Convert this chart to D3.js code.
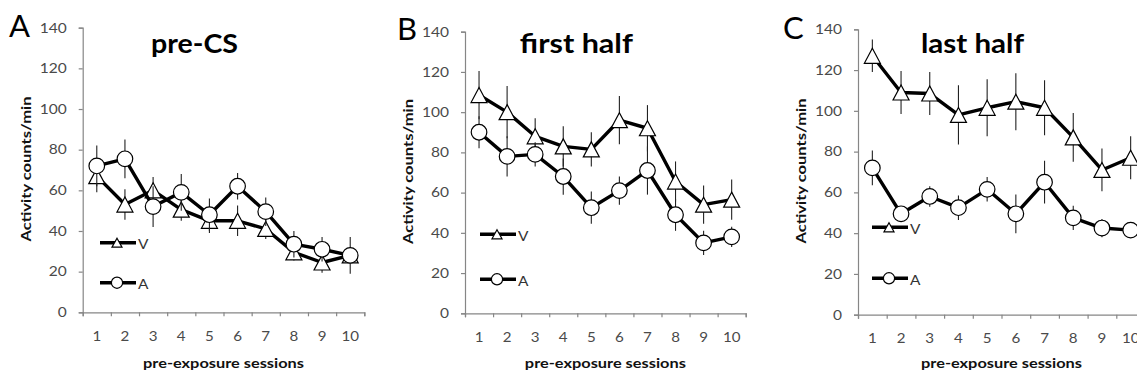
<!DOCTYPE html>
<html>
<head>
<meta charset="utf-8">
<script src="https://cdn.jsdelivr.net/npm/d3@7"></script>
<style>
  html, body { margin: 0; padding: 0; background: #fff; }
  svg { display: block; }
  text { font-family: Lato, "Open Sans", "DejaVu Sans", sans-serif; }
</style>
</head>
<body>
<svg id="fig" width="1137" height="379"></svg>
<script>
// Pre-exposure sessions 1-10
const sessions = [1, 2, 3, 4, 5, 6, 7, 8, 9, 10];
const yTicks = [0, 20, 40, 60, 80, 100, 120, 140];

// Panel A: pre-CS
const preCS_V = [67, 53, 60, 50.5, 45, 45, 41, 29.5, 24.5, 28];
const preCS_V_err = [8, 7.5, 6.5, 5.5, 6, 7.5, 5, 4, 5, 4];
const preCS_A = [72, 75.5, 52, 59, 48, 62, 49.5, 33.5, 31, 28];
const preCS_A_err = [10, 9.5, 10, 9, 8, 6.5, 7, 6.5, 6, 9];

// Panel B: first half
const firstHalf_V = [108.5, 100, 88, 83, 81.5, 96, 92, 65.5, 54, 56.5];
const firstHalf_V_err = [12, 13, 9, 10, 8.5, 12, 11.5, 10, 9.5, 10];
const firstHalf_A = [90, 78, 79, 68, 52.5, 61, 71, 49, 35, 38];
const firstHalf_A_err = [8, 10, 6, 9, 8, 7, 12, 8, 6, 5];

// Panel C: last half
const lastHalf_V = [127, 109, 108.5, 98, 101.5, 104.5, 101.5, 87, 71, 77];
const lastHalf_V_err = [8, 10.5, 10.5, 14.5, 14, 14, 13.5, 12, 10.5, 10.5];
const lastHalf_A = [72, 49.5, 58, 52.5, 61.5, 49.5, 65, 47.5, 42.5, 41.5];
const lastHalf_A_err = [8.5, 3, 5, 6, 6, 9.5, 10.5, 6, 4.5, 3];

const panelLetters = ["A", "B", "C"];
const panelTitles = ["pre-CS", "first half", "last half"];
const seriesNames = ["V", "A"];
const yLabel = "Activity counts/min";
const xLabel = "pre-exposure sessions";

const panelData = [
  { V: preCS_V, Verr: preCS_V_err, A: preCS_A, Aerr: preCS_A_err },
  { V: firstHalf_V, Verr: firstHalf_V_err, A: firstHalf_A, Aerr: firstHalf_A_err },
  { V: lastHalf_V, Verr: lastHalf_V_err, A: lastHalf_A, Aerr: lastHalf_A_err }
];

// Plot frames (pixel layout) for the three panels
const frames = [
  { left: 82.7, right: 364.3, top: 27.7, bottom: 312.3, legX: 100, legV: 242.7, legA: 282.7,
    letterX: 9, letterY: 37, titleW: 87 },
  { left: 465, right: 745.7, top: 31.7, bottom: 313.3, legX: 480, legV: 234.3, legA: 279.3,
    letterX: 397, letterY: 40, titleW: 113 },
  { left: 858, right: 1145, top: 29.3, bottom: 314.7, legX: 872, legV: 227.3, legA: 278.3,
    letterX: 783, letterY: 39, titleW: 103 }
];

const svg = d3.select("#fig");
const AXIS_COLOR = "#868686";
const TICK_TEXT = "#4a4a4a";

// Stretch a text node horizontally by factor k (wide chart lettering)
function widen(sel, k) {
  sel.each(function () {
    const w = this.getComputedTextLength();
    this.setAttribute("textLength", w * k);
    this.setAttribute("lengthAdjust", "spacingAndGlyphs");
  });
}
function fitWidth(sel, w) {
  sel.attr("textLength", w).attr("lengthAdjust", "spacingAndGlyphs");
}

const triPath = (w, h) => `M0,${-h / 2}L${w / 2},${h / 2}L${-w / 2},${h / 2}Z`;

function drawMarker(g, type, big) {
  if (type === "V") {
    g.append("path")
      .attr("d", big ? triPath(16, 15) : triPath(10, 9))
      .attr("fill", "#fff").attr("stroke", "#000").attr("stroke-width", 1.2);
  } else {
    g.append("circle")
      .attr("r", big ? 7.8 : 5.6)
      .attr("fill", "#fff").attr("stroke", "#000").attr("stroke-width", 1.2);
  }
}

frames.forEach((f, i) => {
  const d = panelData[i];
  const g = svg.append("g");

  const x = d3.scaleBand().domain(sessions).range([f.left, f.right]).padding(0);
  const xEdge = d3.scaleLinear().domain([0, sessions.length]).range([f.left, f.right]);
  const y = d3.scaleLinear().domain([0, 140]).range([f.bottom, f.top]);
  const cx = s => x(s) + x.bandwidth() / 2;

  // Y axis
  const ya = g.append("g").attr("transform", `translate(${f.left},0)`)
    .call(d3.axisLeft(y).tickValues(yTicks).tickSize(4).tickPadding(12));
  ya.select(".domain").attr("stroke", AXIS_COLOR).attr("stroke-width", 1.2);
  ya.selectAll(".tick line").attr("stroke", AXIS_COLOR).attr("stroke-width", 1.2);
  ya.selectAll(".tick text").attr("fill", TICK_TEXT).style("font-size", "13.5px")
    .call(widen, 1.15);

  // X axis: tick marks on band edges, labels in band centres
  const xa = g.append("g").attr("transform", `translate(0,${f.bottom})`)
    .call(d3.axisBottom(xEdge).ticks(sessions.length).tickSize(4).tickSizeOuter(4).tickFormat(""));
  xa.select(".domain").attr("stroke", AXIS_COLOR).attr("stroke-width", 1.2);
  xa.selectAll(".tick line").attr("stroke", AXIS_COLOR).attr("stroke-width", 1.2);

  const xl = g.append("g").attr("transform", `translate(0,${f.bottom})`)
    .call(d3.axisBottom(x).tickSize(0).tickPadding(19));
  xl.select(".domain").remove();
  xl.selectAll(".tick text").attr("fill", TICK_TEXT).style("font-size", "13.5px")
    .call(widen, 1.12);

  // Axis titles
  g.append("text")
    .attr("transform", `translate(${f.left - 57.5},${(f.top + f.bottom) / 2 - 1}) rotate(-90)`)
    .attr("text-anchor", "middle").attr("dominant-baseline", "central")
    .style("font-size", "14px").style("font-weight", "bold").attr("fill", "#111")
    .text(yLabel).call(fitWidth, 145);

  g.append("text")
    .attr("x", (f.left + f.right) / 2).attr("y", 368)
    .attr("text-anchor", "middle")
    .style("font-size", "14px").style("font-weight", "bold").attr("fill", "#111")
    .text(xLabel).call(fitWidth, 161);

  // Panel title and letter
  g.append("text")
    .attr("x", (f.left + f.right) / 2 - 29).attr("y", 53)
    .attr("text-anchor", "middle")
    .style("font-size", "27px").style("font-weight", "bold").attr("fill", "#000")
    .text(panelTitles[i]).call(fitWidth, f.titleW);

  g.append("text")
    .attr("x", f.letterX).attr("y", f.letterY)
    .style("font-size", "31px").attr("fill", "#000")
    .text(panelLetters[i]);

  // Series: V (triangles) then A (circles)
  const line = d3.line().x((v, j) => cx(sessions[j])).y(v => y(v));
  seriesNames.forEach(name => {
    const vals = d[name];
    const errs = d[name + "err"];
    const sg = g.append("g");

    sg.append("path").datum(vals)
      .attr("d", line).attr("fill", "none")
      .attr("stroke", "#000").attr("stroke-width", 3.4).attr("stroke-linejoin", "round");

    sg.selectAll("line.err").data(vals).join("line")
      .attr("class", "err")
      .attr("x1", (v, j) => cx(sessions[j])).attr("x2", (v, j) => cx(sessions[j]))
      .attr("y1", (v, j) => y(v + errs[j])).attr("y2", (v, j) => y(v - errs[j]))
      .attr("stroke", "#222").attr("stroke-width", 1.1);

    sg.selectAll("g.mk").data(vals).join("g")
      .attr("class", "mk")
      .attr("transform", (v, j) => `translate(${cx(sessions[j])},${y(v)})`)
      .each(function () { drawMarker(d3.select(this), name, true); });
  });

  // Legend
  seriesNames.forEach(name => {
    const ly = name === "V" ? f.legV : f.legA;
    const lg = g.append("g");
    lg.append("line")
      .attr("x1", f.legX).attr("x2", f.legX + 36).attr("y1", ly).attr("y2", ly)
      .attr("stroke", "#000").attr("stroke-width", 3.4);
    const m = lg.append("g").attr("transform", `translate(${f.legX + 17},${ly})`);
    drawMarker(m, name, false);
    lg.append("text")
      .attr("x", f.legX + 38).attr("y", ly + 1).attr("dominant-baseline", "central")
      .style("font-size", "14px").attr("fill", "#333")
      .text(name).call(widen, 1.1);
  });
});
</script>
</body>
</html>
